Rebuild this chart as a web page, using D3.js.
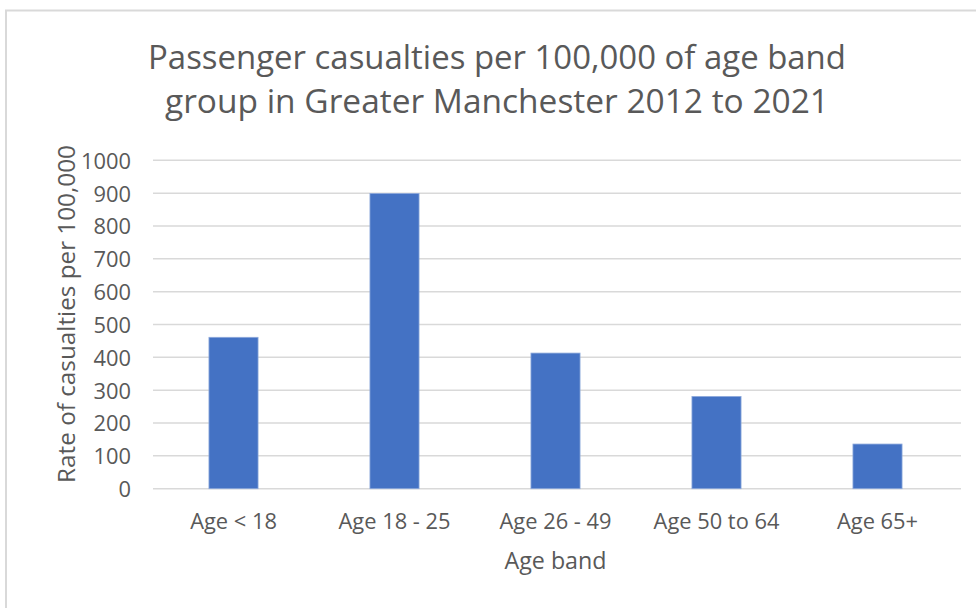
<!DOCTYPE html>
<html><head><meta charset="utf-8">
<script src="https://cdn.jsdelivr.net/npm/d3@7"></script>
<style>html,body{margin:0;padding:0;background:#fff;} svg{display:block;}</style>
</head><body>
<svg id="c" width="976" height="608"></svg>
<script>
const categories = ["Age < 18", "Age 18 - 25", "Age 26 - 49", "Age 50 to 64", "Age 65+"];
const values = [461, 899, 413, 281, 136];
const yTicks = [0, 100, 200, 300, 400, 500, 600, 700, 800, 900, 1000];
const titleLines = ["Passenger casualties per 100,000 of age band", "group in Greater Manchester 2012 to 2021"];
const xTitle = "Age band";
const yTitle = "Rate of casualties per 100,000";

const FONT = "'Open Sans', 'Noto Sans', sans-serif";
const TXT = "#595959";
const svg = d3.select("#c");

svg.append("rect").attr("x", 0).attr("y", 0).attr("width", 976).attr("height", 608).attr("fill", "#fff");
svg.append("rect").attr("x", 6).attr("y", 10.5).attr("width", 1000).attr("height", 700)
  .attr("fill", "#fff").attr("stroke", "#d9d9d9").attr("stroke-width", 2);

const x = d3.scaleBand().domain(categories).range([153, 958]).paddingInner(0.695).paddingOuter(0.3475);
const y = d3.scaleLinear().domain([0, 1000]).range([488.7, 160.3]);

function fitText(sel, target) {
  sel.each(function() {
    const el = d3.select(this);
    const w = this.getComputedTextLength();
    const fs = parseFloat(el.attr("font-size"));
    el.attr("font-size", (fs * target / w).toFixed(2));
  });
}

// gridlines
svg.append("g").selectAll("line").data(yTicks).join("line")
  .attr("x1", 153).attr("x2", 961)
  .attr("y1", d => y(d)).attr("y2", d => y(d))
  .attr("stroke", "#d9d9d9").attr("stroke-width", 1.5);

// bars
svg.append("g").selectAll("rect").data(values).join("rect")
  .attr("x", (d, i) => x(categories[i]))
  .attr("width", x.bandwidth())
  .attr("y", d => y(d))
  .attr("height", d => y(0) - y(d))
  .attr("fill", "#4472c4")
  .attr("stroke", "#8faadc").attr("stroke-width", 0.8);

// y axis
const yAxis = svg.append("g").attr("transform", "translate(131,0)")
  .call(d3.axisLeft(y).tickValues(yTicks).tickSize(0).tickPadding(0).tickFormat(d3.format("d")));
yAxis.select(".domain").remove();
yAxis.selectAll("text").attr("font-family", FONT).attr("font-size", 20).attr("fill", TXT)
  .attr("dy", "0.36em");
(function(){
  const t = yAxis.selectAll("text").filter(d => d === 1000).node();
  const fs = 20 * 50 / t.getComputedTextLength();
  yAxis.selectAll("text").attr("font-size", fs.toFixed(2));
})();

// x axis
const xAxis = svg.append("g").attr("transform", "translate(0,489)")
  .call(d3.axisBottom(x).tickSize(0).tickPadding(0));
xAxis.select(".domain").remove();
xAxis.selectAll("text").attr("font-family", FONT).attr("font-size", 20).attr("fill", TXT)
  .attr("dy", 0).attr("y", 40);
(function(){
  const t = xAxis.selectAll("text").filter(d => d === "Age 26 - 49").node();
  const fs = 20 * 112 / t.getComputedTextLength();
  xAxis.selectAll("text").attr("font-size", fs.toFixed(2));
})();

// title
const tw = [698, 664], tb = [69, 113];
titleLines.forEach((s, i) => {
  svg.append("text").attr("x", 497).attr("y", tb[i]).attr("text-anchor", "middle")
    .attr("font-family", FONT).attr("font-size", 30).attr("fill", TXT).text(s)
    .call(fitText, tw[i]);
});

// x title
svg.append("text").attr("x", 555.5).attr("y", 569).attr("text-anchor", "middle")
  .attr("font-family", FONT).attr("font-size", 22).attr("fill", TXT).text(xTitle)
  .call(fitText, 102);

// y title
svg.append("text").attr("transform", "translate(74.5,314) rotate(-90)").attr("text-anchor", "middle")
  .attr("font-family", FONT).attr("font-size", 22).attr("fill", TXT).text(yTitle)
  .call(fitText, 338);
</script>
</body></html>
